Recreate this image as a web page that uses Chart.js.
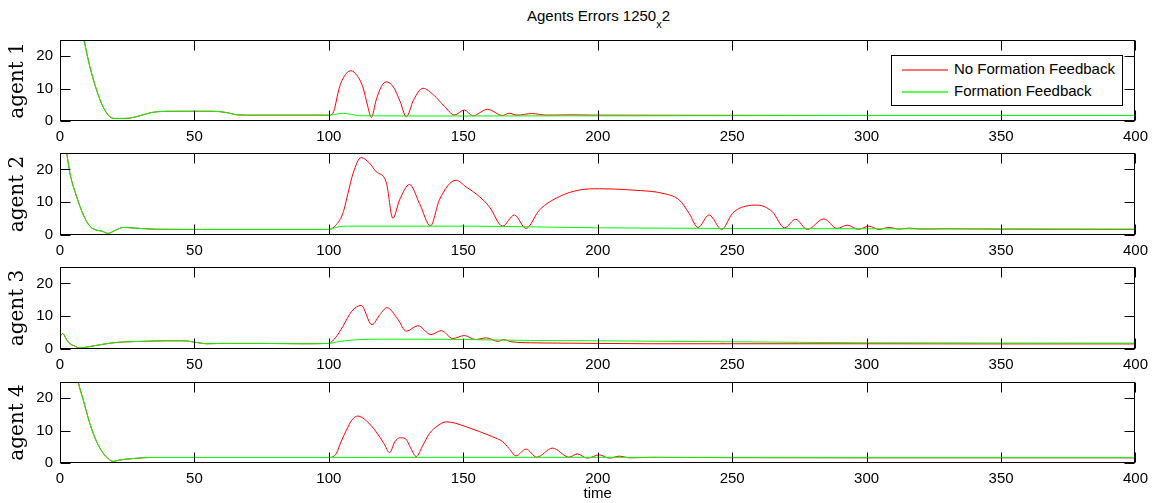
<!DOCTYPE html>
<html>
<head>
<meta charset="utf-8">
<title>Agents Errors</title>
<script src="https://cdn.jsdelivr.net/npm/chart.js@4.4.1/dist/chart.umd.min.js"></script>
<style>
  body { margin: 0; background: #fff; width: 1155px; height: 503px; overflow: hidden; position: relative;
         font-family: "Liberation Sans", Arial, Helvetica, sans-serif; color: #000; }
  canvas { position: absolute; left: 0; }
  #title { position: absolute; left: 60px; width: 1077px; top: 7px; text-align: center; font-size: 15px; line-height: 17px; }
  #title sub { font-size: 11px; vertical-align: -7px; line-height: 0; }
  #legend { position: absolute; left: 891px; top: 55px; width: 230px; height: 49px; border: 1px solid #000;
            background: #fff; font-size: 15px; }
  #legend .sw { position: absolute; left: 10px; width: 46px; height: 2px; }
  #legend .txt { position: absolute; left: 62px; line-height: 20px; white-space: nowrap; }
</style>
</head>
<body>
<div id="title">Agents Errors 1250<sub>x</sub>2</div>
<canvas id="c1"></canvas>
<canvas id="c2"></canvas>
<canvas id="c3"></canvas>
<canvas id="c4"></canvas>
<div id="legend">
  <div class="sw" style="top:13px;background:rgba(255,0,0,0.55)"></div><div class="txt" style="top:3px">No Formation Feedback</div>
  <div class="sw" style="top:35px;background:rgba(0,255,0,0.65)"></div><div class="txt" style="top:25px">Formation Feedback</div>
</div>
<script>
const xTicks = [0, 50, 100, 150, 200, 250, 300, 350, 400];
const yTicks = [0, 10, 20];
const yMax = 25;
const agentLabels = ["agent 1", "agent 2", "agent 3", "agent 4"];
const seriesNames = ["No Formation Feedback", "Formation Feedback"];

// agent 1 -- both runs are identical until t = 100
const a1StartT = [0, 4, 7, 8.9, 11.1, 13.6, 16, 18.6, 20.4, 23, 26, 30, 34, 37, 42, 50, 57, 62, 66, 72, 80, 90, 100];
const a1StartV = [80, 48, 32, 25, 16.8, 9.6, 4.4, 1.3, 0.8, 0.8, 0.9, 1.7, 2.6, 2.9, 3.0, 3.0, 3.0, 2.6, 1.9, 1.8, 1.8, 1.8, 1.8];
const a1NoFbT = [101.5, 104, 106.5, 108.3, 110.5, 112.6, 114.5, 115.8, 117.6, 119.5, 121.3, 124, 126.5, 128.8, 131.5, 135, 139, 143, 146.7, 150.4, 153.5, 159, 164.6, 167, 170, 175.5, 181, 190, 200, 250, 300, 350, 400];
const a1NoFbV = [2.4, 10.6, 14.7, 15.5, 14.0, 10.6, 4.4, 1.1, 6.5, 10.6, 12.1, 10.5, 6.0, 1.3, 6.5, 10.1, 8.0, 4.5, 1.85, 3.4, 1.6, 3.6, 1.7, 2.4, 1.8, 2.3, 1.8, 1.9, 1.8, 1.75, 1.7, 1.7, 1.7];
const a1FbT = [102, 105, 108, 112, 120, 130, 150, 200, 300, 400];
const a1FbV = [2.0, 2.4, 2.1, 1.6, 1.6, 1.55, 1.55, 1.6, 1.7, 1.7];

// agent 2
const a2StartT = [0, 2.5, 3.7, 6.2, 8.7, 11.1, 13.6, 15.5, 17.9, 20.5, 23.5, 28, 35.7, 50, 75, 100];
const a2StartV = [38, 25, 18.8, 11.7, 6.1, 2.7, 1.5, 1.2, 0.5, 1.4, 2.3, 2.1, 1.75, 1.7, 1.7, 1.7];
const a2NoFbT = [102, 105.2, 107.1, 109, 112, 115, 117.6, 121.3, 123.8, 126.3, 130, 133.7, 137.8, 141.1, 147.3, 151, 156, 159.7, 164.6, 169, 173.3, 178.3, 185.7, 193.1, 200.6, 212.9, 225.3, 230.3, 234, 237.3, 241.4, 246.1, 250.1, 255, 259.4, 264.9, 269.5, 273.6, 277.9, 284.1, 289, 292.8, 296.9, 300.8, 304.6, 308.3, 312, 316, 320, 330, 350, 400];
const a2NoFbV = [2.5, 6.6, 12.7, 18.8, 23.6, 22.0, 19.3, 16.2, 5.1, 10.7, 15.4, 9.6, 2.8, 10.7, 16.7, 14.7, 11.7, 8.6, 2.7, 6.1, 2.0, 7.6, 11.7, 13.7, 14.1, 13.7, 12.5, 10.7, 6.6, 2.3, 6.1, 1.7, 6.6, 8.8, 9.1, 7.1, 2.2, 4.8, 1.7, 4.9, 2.0, 3.0, 1.7, 2.7, 1.7, 2.3, 1.8, 2.1, 1.8, 1.9, 1.8, 1.7];
const a2FbT = [102, 104, 110, 150, 200, 250, 300, 400];
const a2FbV = [2.1, 2.6, 2.7, 2.7, 2.2, 2.0, 1.9, 1.8];

// agent 3
const a3StartT = [0, 1, 2.5, 3.7, 5.5, 7.4, 10, 14.9, 21, 27, 33.4, 40, 45.8, 48.5, 50.8, 54.5, 60, 75, 90, 100];
const a3StartV = [3.9, 4.7, 2.8, 1.6, 0.9, 0.3, 0.6, 1.3, 2.0, 2.25, 2.4, 2.5, 2.5, 2.3, 2.0, 1.6, 1.7, 1.7, 1.6, 1.7];
const a3NoFbT = [102.5, 105.2, 108.5, 112, 116, 119, 121.6, 125.7, 128.8, 133.1, 138, 141.8, 146.1, 150.4, 154.5, 158.6, 163, 164.9, 168, 175, 185, 200, 220, 250, 300, 350, 400];
const a3NoFbV = [3.5, 6.9, 11.5, 13.3, 7.4, 10.5, 12.6, 9.0, 5.4, 7.1, 4.4, 5.6, 3.2, 4.1, 2.9, 3.4, 2.3, 2.9, 2.2, 1.9, 1.8, 1.7, 1.6, 1.6, 1.6, 1.55, 1.55];
const a3FbT = [104, 110, 120, 150, 175, 200, 250, 300, 400];
const a3FbV = [2.3, 2.8, 3.0, 2.9, 2.6, 2.5, 2.2, 1.9, 1.8];

// agent 4
const a4StartT = [0, 3, 5.5, 6.8, 8.7, 11.1, 13.6, 16.1, 18, 19.8, 22, 24.8, 29, 33.4, 50, 75, 100];
const a4StartV = [75, 45, 31, 25, 19.3, 12.2, 6.6, 3.0, 1.3, 0.5, 0.9, 1.2, 1.5, 1.7, 1.7, 1.7, 1.7];
const a4NoFbT = [101.5, 102.8, 104.5, 106.5, 108.5, 110.8, 114, 117.6, 120.5, 122.6, 124.5, 126.5, 128.5, 130.5, 132.5, 135, 137.4, 140.5, 143.6, 147, 151, 156, 160.9, 164.6, 167, 169.6, 173.3, 177.3, 183.2, 189.3, 192.4, 196.1, 200.6, 204.3, 208, 212, 220, 250, 300, 400];
const a4NoFbV = [1.9, 3.0, 6.5, 10.1, 13.2, 14.5, 13.0, 9.6, 6.0, 3.2, 6.5, 7.8, 7.5, 4.5, 2.0, 5.5, 9.1, 11.5, 12.7, 12.3, 11.2, 9.7, 8.1, 6.6, 4.5, 2.2, 4.3, 1.8, 4.6, 1.8, 2.8, 1.5, 2.5, 1.5, 2.1, 1.6, 1.75, 1.65, 1.6, 1.6];
const a4FbT = [150, 200, 300, 400];
const a4FbV = [1.75, 1.75, 1.7, 1.7];

const agents = [
  { startT: a1StartT, startV: a1StartV, noFbT: a1NoFbT, noFbV: a1NoFbV, fbT: a1FbT, fbV: a1FbV },
  { startT: a2StartT, startV: a2StartV, noFbT: a2NoFbT, noFbV: a2NoFbV, fbT: a2FbT, fbV: a2FbV },
  { startT: a3StartT, startV: a3StartV, noFbT: a3NoFbT, noFbV: a3NoFbV, fbT: a3FbT, fbV: a3FbV },
  { startT: a4StartT, startV: a4StartV, noFbT: a4NoFbT, noFbV: a4NoFbV, fbT: a4FbT, fbV: a4FbV },
];

// plot boxes (top, bottom) in page pixels
const boxTop = [40, 153, 267, 382];
const boxBottom = [121, 235, 349, 463];
const plotLeft = 60;
const plotRight = 1137;
const pageW = 1155;
const pageH = 503;

const toPoints = (ts, vs) => ts.map((t, i) => ({ x: t, y: vs[i] }));

// box around the axes with inward tick marks on all four sides
const framePlugin = {
  id: "frame",
  afterDatasetsDraw(chart) {
    const { ctx, chartArea: a, scales } = chart;
    const L = Math.round(a.left) + 0.5, R = Math.round(a.right) - 0.5;
    const T = Math.round(a.top) + 0.5, B = Math.round(a.bottom) - 0.5;
    const tl = 10;
    ctx.save();
    ctx.strokeStyle = "#000";
    ctx.lineWidth = 1;
    ctx.beginPath();
    xTicks.forEach((v) => {
      const px = Math.round(scales.x.getPixelForValue(v)) + 0.5;
      ctx.moveTo(px, B); ctx.lineTo(px, B - tl);
      ctx.moveTo(px, T); ctx.lineTo(px, T + tl);
    });
    yTicks.forEach((v) => {
      const py = Math.round(scales.y.getPixelForValue(v)) + 0.5;
      ctx.moveTo(L, py); ctx.lineTo(L + tl, py);
      ctx.moveTo(R, py); ctx.lineTo(R - tl, py);
    });
    ctx.stroke();
    ctx.strokeRect(L, T, R - L, B - T);
    ctx.restore();
  },
};

Chart.defaults.font.family = '"Liberation Sans", Arial, Helvetica, sans-serif';
Chart.defaults.color = "#000";

agents.forEach((ag, i) => {
  const last = i === agents.length - 1;
  const padTop = 20;
  const canvasTop = boxTop[i] - padTop;
  const canvasBottom = last ? pageH : boxBottom[i] + 26;
  const xAxisH = canvasBottom - boxBottom[i];

  const cv = document.getElementById("c" + (i + 1));
  cv.width = pageW;
  cv.height = canvasBottom - canvasTop;
  cv.style.top = canvasTop + "px";

  new Chart(cv, {
    type: "line",
    data: {
      datasets: [
        {
          label: seriesNames[0],
          data: toPoints(ag.startT.concat(ag.noFbT), ag.startV.concat(ag.noFbV)),
          borderColor: "#ff0000",
          borderWidth: 1,
          order: 1,
        },
        {
          label: seriesNames[1],
          data: toPoints(ag.startT.concat(ag.fbT), ag.startV.concat(ag.fbV)),
          borderColor: "#00ff00",
          borderWidth: 1,
          order: 0,
        },
      ],
    },
    options: {
      responsive: false,
      animation: false,
      parsing: false,
      events: [],
      layout: { padding: { top: padTop, right: pageW - plotRight, left: 0, bottom: 0 } },
      elements: {
        point: { radius: 0 },
        line: { cubicInterpolationMode: "monotone", fill: false },
      },
      plugins: { legend: { display: false }, tooltip: { enabled: false } },
      scales: {
        x: {
          type: "linear",
          min: 0,
          max: 400,
          grid: { display: false, drawTicks: false },
          border: { display: false },
          ticks: { padding: 7, font: { size: 15 }, autoSkip: false, maxRotation: 0 },
          afterBuildTicks: (s) => { s.ticks = xTicks.map((v) => ({ value: v })); },
          afterFit: (s) => { s.height = xAxisH; },
          title: {
            display: last,
            text: "time",
            font: { size: 15 },
            padding: { top: 0, bottom: 0 },
          },
        },
        y: {
          min: 0,
          max: yMax,
          grid: { display: false, drawTicks: false },
          border: { display: false },
          ticks: { padding: 7, font: { size: 15 } },
          afterBuildTicks: (s) => { s.ticks = yTicks.map((v) => ({ value: v })); },
          afterFit: (s) => { s.width = plotLeft; },
          title: {
            display: true,
            text: agentLabels[i],
            font: { family: '"DejaVu Serif", serif', size: 20 },
            padding: { top: 6, bottom: 0 },
          },
        },
      },
    },
    plugins: [framePlugin],
  });
});
</script>
</body>
</html>
